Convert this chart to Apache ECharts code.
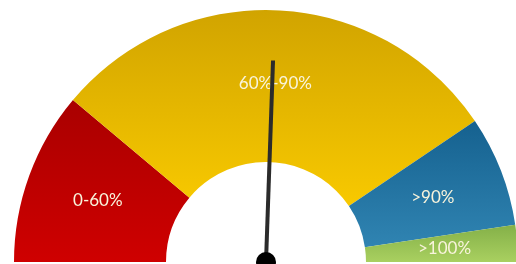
<!DOCTYPE html>
<html>
<head>
<meta charset="utf-8">
<script src="https://cdn.jsdelivr.net/npm/echarts@6/dist/echarts.min.js"></script>
<style>
html, body { margin: 0; padding: 0; background: #fff; }
#chart { width: 516px; height: 264px; }
</style>
</head>
<body>
<div id="chart"></div>
<script>
// bands of the dial, spans in degrees of the half circle (left -> right)
var bandNames = ['0-60%', '60%-90%', '>90%', '>100%'];
var bandSpans = [40, 106, 25.5, 8.5];
// needle position on the same 0..180 scale, counted from the left end
var needleValue = [92];

var bandColors = [
  ['#a90000', '#cf0000'],
  ['#d1a400', '#f8c900'],
  ['#15618f', '#3084b2'],
  ['#84b048', '#a9d060']
];

function grad(c) {
  return new echarts.graphic.LinearGradient(0, 0, 0, 1, [
    { offset: 0, color: c[0] },
    { offset: 1, color: c[1] }
  ]);
}

var pieData = bandNames.map(function (n, i) {
  return { name: n, value: bandSpans[i], itemStyle: { color: grad(bandColors[i]) } };
});
// lower half is empty
pieData.push({
  name: 'rest', value: 180,
  itemStyle: { color: 'rgba(0,0,0,0)' },
  label: { show: false }
});

var chart = echarts.init(document.getElementById('chart'));
chart.setOption({
  animation: false,
  series: [
    {
      type: 'pie',
      z: 1,
      center: [266, 262],
      radius: [100, 252],
      startAngle: 180,
      clockwise: true,
      silent: true,
      itemStyle: { borderWidth: 0 },
      label: {
        show: true,
        position: 'inside',
        color: '#f9f4dc',
        fontFamily: 'Lato',
        fontSize: 17
      },
      labelLine: { show: false },
      data: pieData
    },
    {
      type: 'gauge',
      z: 10,
      center: [266, 262],
      radius: 252,
      startAngle: 180,
      endAngle: 0,
      min: 0,
      max: 180,
      axisLine: { show: false },
      axisTick: { show: false },
      splitLine: { show: false },
      axisLabel: { show: false },
      detail: { show: false },
      title: { show: false },
      pointer: {
        icon: 'rect',
        length: '80%',
        width: 4,
        offsetCenter: [0, 0],
        itemStyle: { color: '#2b2b2b' }
      },
      anchor: {
        show: true,
        size: 20,
        showAbove: true,
        itemStyle: { color: '#000' }
      },
      data: needleValue.map(function (v) { return { value: v }; })
    }
  ]
});
</script>
</body>
</html>
